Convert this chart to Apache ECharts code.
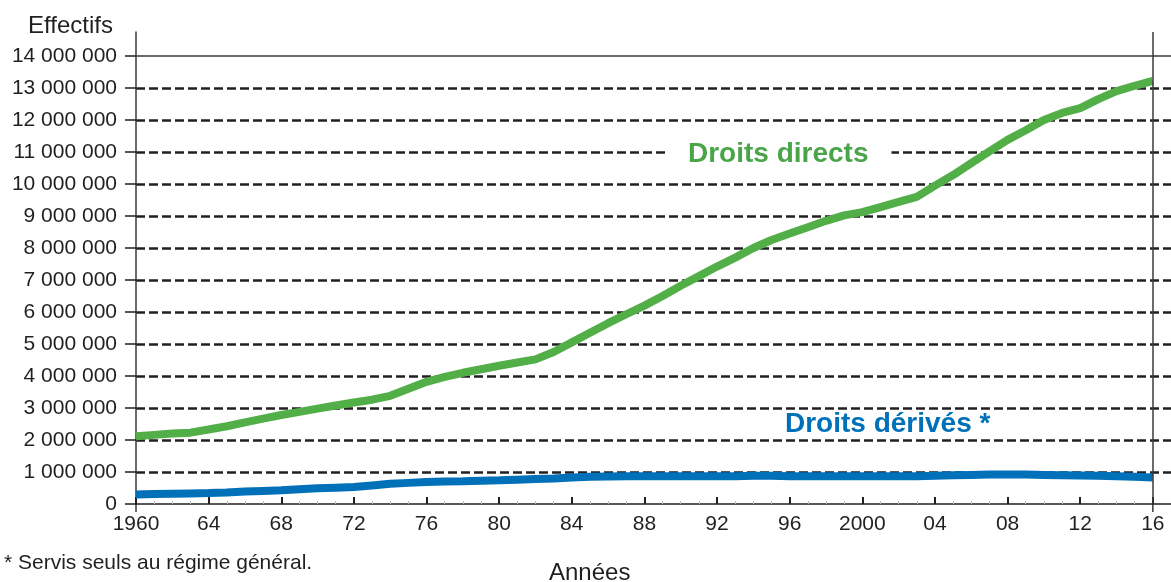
<!DOCTYPE html>
<html>
<head>
<meta charset="utf-8">
<script src="https://cdn.jsdelivr.net/npm/echarts@6/dist/echarts.min.js"></script>
<style>
  html, body { margin: 0; padding: 0; background: #fff; }
  #main { width: 1171px; height: 582px; }
</style>
</head>
<body>
<div id="main"></div>
<script>
var years = [1960, 1961, 1962, 1963, 1964, 1965, 1966, 1967, 1968, 1969,
  1970, 1971, 1972, 1973, 1974, 1975, 1976, 1977, 1978, 1979,
  1980, 1981, 1982, 1983, 1984, 1985, 1986, 1987, 1988, 1989,
  1990, 1991, 1992, 1993, 1994, 1995, 1996, 1997, 1998, 1999,
  2000, 2001, 2002, 2003, 2004, 2005, 2006, 2007, 2008, 2009,
  2010, 2011, 2012, 2013, 2014, 2015, 2016];

// Droits directs
var direct = [2120000, 2160000, 2200000, 2230000, 2330000, 2430000, 2550000, 2670000, 2780000, 2880000,
  2980000, 3080000, 3170000, 3260000, 3380000, 3600000, 3820000, 3970000, 4100000, 4210000,
  4320000, 4420000, 4520000, 4750000, 5050000, 5350000, 5650000, 5930000, 6200000, 6500000,
  6820000, 7120000, 7420000, 7700000, 8000000, 8250000, 8450000, 8650000, 8850000, 9020000,
  9120000, 9280000, 9440000, 9600000, 9950000, 10280000, 10650000, 11020000, 11380000, 11680000,
  12000000, 12220000, 12370000, 12650000, 12900000, 13070000, 13220000];

// Droits dérivés
var derived = [300000, 310000, 320000, 330000, 340000, 360000, 390000, 410000, 430000, 460000,
  490000, 510000, 530000, 580000, 630000, 660000, 690000, 700000, 710000, 730000,
  740000, 760000, 780000, 800000, 830000, 850000, 860000, 870000, 870000, 870000,
  870000, 870000, 870000, 870000, 880000, 880000, 870000, 870000, 870000, 870000,
  870000, 870000, 870000, 870000, 880000, 900000, 910000, 920000, 920000, 920000,
  910000, 900000, 890000, 880000, 870000, 850000, 830000];

var xTicks = [1960, 1964, 1968, 1972, 1976, 1980, 1984, 1988, 1992, 1996, 2000, 2004, 2008, 2012, 2016];
var xLabels = ['1960', '64', '68', '72', '76', '80', '84', '88', '92', '96', '2000', '04', '08', '12', '16'];
var yTicks = [0, 1000000, 2000000, 3000000, 4000000, 5000000, 6000000, 7000000,
  8000000, 9000000, 10000000, 11000000, 12000000, 13000000, 14000000];

var font = 'Liberation Sans, Arial, Helvetica, sans-serif';
var ink = '#231f20';
var green = '#52ae47';
var blue = '#0070b9';

function fmtY(v) {
  return String(v).replace(/\B(?=(\d{3})+(?!\d))/g, ' ');
}

var chart = echarts.init(document.getElementById('main'));

var option = {
  backgroundColor: '#ffffff',
  animation: false,
  grid: { left: 136, right: 0, top: 32, bottom: 78 },
  xAxis: {
    type: 'value',
    min: 1960,
    max: 2017,
    interval: 4,
    axisLine: { show: true, lineStyle: { color: ink, width: 1.5 } },
    axisTick: { show: true, inside: true, length: 7, customValues: xTicks, lineStyle: { color: ink, width: 2 } },
    minorTick: { show: true, splitNumber: 4, length: 3, lineStyle: { color: '#bbbbbb' } },
    axisLabel: {
      customValues: xTicks,
      margin: 10,
      color: ink,
      fontFamily: font,
      fontSize: 21,
      formatter: function (v) {
        var i = xTicks.indexOf(v);
        return i >= 0 ? xLabels[i] : '';
      }
    },
    splitLine: { show: false }
  },
  yAxis: {
    type: 'value',
    min: 0,
    max: 14750000,
    interval: 1000000,
    axisLine: { show: true, lineStyle: { color: '#3a3a3a', width: 1.5 } },
    axisTick: { show: true, length: 11, customValues: yTicks, lineStyle: { color: ink, width: 1.5 } },
    axisLabel: {
      customValues: yTicks,
      margin: 19,
      color: ink,
      fontFamily: font,
      fontSize: 21,
      formatter: fmtY
    },
    splitLine: {
      show: true,
      showMinLine: false,
      showMaxLine: false,
      lineStyle: { color: ink, type: [9, 4], width: 2.5 }
    }
  },
  series: [
    {
      name: 'Droits directs',
      type: 'line',
      data: years.map(function (y, i) { return [y, direct[i]]; }),
      showSymbol: false,
      lineStyle: { color: green, width: 8 },
      itemStyle: { color: green },
      z: 3,
      markLine: {
        silent: true,
        symbol: 'none',
        label: { show: false },
        lineStyle: { color: '#3a3a3a', type: 'solid', width: 1.5 },
        data: [{ yAxis: 14000000 }, { xAxis: 2016 }]
      }
    },
    {
      name: 'Droits dérivés',
      type: 'line',
      data: years.map(function (y, i) { return [y, derived[i]]; }),
      showSymbol: false,
      lineStyle: { color: blue, width: 8 },
      itemStyle: { color: blue },
      z: 3
    }
  ]
};
chart.setOption(option);

// small extensions of the two vertical lines below the x axis
var p0 = chart.convertToPixel({ gridIndex: 0 }, [1960, 0]);
var p1 = chart.convertToPixel({ gridIndex: 0 }, [2016, 0]);

chart.setOption({
  graphic: [
    { type: 'line', shape: { x1: p0[0], y1: p0[1], x2: p0[0], y2: p0[1] + 8 }, style: { stroke: '#3a3a3a', lineWidth: 1.5 } },
    { type: 'line', shape: { x1: p1[0], y1: p1[1], x2: p1[0], y2: p1[1] + 8 }, style: { stroke: '#3a3a3a', lineWidth: 1.5 } },
    { type: 'text', left: 28, top: 14, style: { text: 'Effectifs', fill: ink, font: '24px ' + font } },
    { type: 'text', left: 549, top: 561, style: { text: 'Années', fill: ink, font: '24px ' + font } },
    { type: 'text', left: 4, top: 553, style: { text: '* Servis seuls au régime général.', fill: ink, font: '21px ' + font } },
    {
      type: 'text', left: 665, top: 138, z: 10,
      style: {
        text: 'Droits directs', fill: '#4aa548', font: 'bold 28px ' + font,
        backgroundColor: '#ffffff', padding: [2, 23, 2, 23]
      }
    },
    { type: 'text', left: 785, top: 410, z: 10, style: { text: 'Droits dérivés *', fill: blue, font: 'bold 28px ' + font } }
  ]
});
</script>
</body>
</html>
